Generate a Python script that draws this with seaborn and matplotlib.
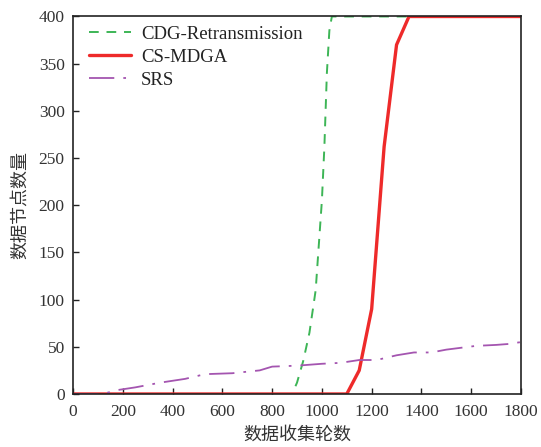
import matplotlib
matplotlib.use("Agg")
import matplotlib.pyplot as plt
import seaborn as sns
import pandas as pd

# Collection rounds and number of data nodes for each scheme
cdg_rounds = [0, 880, 900, 925, 950, 975, 1000, 1010, 1020, 1030, 1040, 1800]
cdg_nodes = [0, 0, 12, 35, 65, 110, 205, 262, 340, 385, 400, 400]

mdga_rounds = [0, 1100, 1150, 1200, 1250, 1300, 1350, 1800]
mdga_nodes = [0, 0, 25, 90, 262, 370, 400, 400]

srs_rounds = [0, 120, 175, 250, 350, 450, 530, 640, 750, 800, 900, 1000,
              1075, 1150, 1220, 1300, 1370, 1440, 1500, 1560, 1620, 1700,
              1750, 1800]
srs_nodes = [0, 0, 4, 7, 12, 16, 21, 22, 25, 29, 30, 32,
             33, 36, 36, 41, 44, 44, 47, 49, 51, 52, 53, 55]

series_names = ["CDG-Retransmission", "CS-MDGA", "SRS"]
x_ticks = [0, 200, 400, 600, 800, 1000, 1200, 1400, 1600, 1800]
y_ticks = [0, 50, 100, 150, 200, 250, 300, 350, 400]

sns.set_theme(style="white")
plt.rcParams["font.family"] = ["Liberation Serif", "DejaVu Serif"]

fig = plt.figure(figsize=(5.41, 4.47), dpi=100)
ax = fig.add_axes([0.135, 0.1186, 0.828, 0.8445])

df_cdg = pd.DataFrame({"x": cdg_rounds, "y": cdg_nodes})
df_mdga = pd.DataFrame({"x": mdga_rounds, "y": mdga_nodes})
df_srs = pd.DataFrame({"x": srs_rounds, "y": srs_nodes})

sns.lineplot(data=df_cdg, x="x", y="y", ax=ax, color="#3db556", lw=1.4,
             linestyle=(0, (5, 4)), label=series_names[0], estimator=None)
sns.lineplot(data=df_mdga, x="x", y="y", ax=ax, color="#ee2a2a", lw=2.4,
             label=series_names[1], estimator=None)
sns.lineplot(data=df_srs, x="x", y="y", ax=ax, color="#a455b0", lw=1.3,
             linestyle=(0, (14, 5, 1.5, 5)), label=series_names[2], estimator=None)

ax.set_xlim(0, 1800)
ax.set_ylim(0, 400)
ax.set_xticks(x_ticks)
ax.set_yticks(y_ticks)
ax.tick_params(axis="both", direction="in", length=4, width=1, colors="#222222",
               labelsize=12.5, labelcolor="#333333", bottom=True, left=True,
               top=False, right=False)
ax.tick_params(axis="x", pad=7)
ax.tick_params(axis="y", pad=6)
for sp in ax.spines.values():
    sp.set_color("#222222")
    sp.set_linewidth(1.2)

ax.set_xlabel("数据收集轮数", fontsize=13, family=["Noto Sans CJK SC", "DejaVu Sans"],
              color="#333333", labelpad=4)
ax.set_ylabel("数据节点数量", fontsize=13, family=["Noto Sans CJK SC", "DejaVu Sans"],
              color="#333333", labelpad=7)

leg = ax.legend(loc="upper left", frameon=False, fontsize=13.5, handlelength=2.2,
                handletextpad=0.55, labelspacing=0.3, borderaxespad=0.0,
                bbox_to_anchor=(0.02, 0.995))
for t in leg.get_texts():
    t.set_color("#222222")

fig.savefig("out.png", dpi=100)
